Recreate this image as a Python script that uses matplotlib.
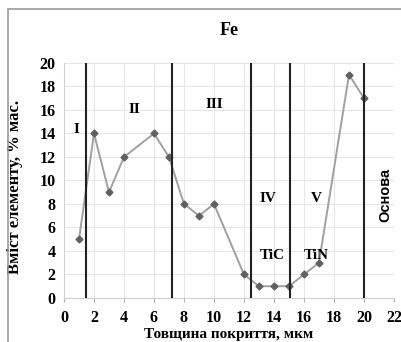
import matplotlib
matplotlib.use("Agg")
import matplotlib.pyplot as plt
from matplotlib.patches import Rectangle

x = [1, 2, 3, 4, 6, 7, 8, 9, 10, 12, 13, 14, 15, 16, 17, 19, 20]
fe = [5, 14, 9, 12, 14, 12, 8, 7, 8, 2, 1, 1, 1, 2, 3, 19, 17]
boundaries = [1.5, 7.2, 12.5, 15.05, 20]
zone_labels = ["I", "II", "III", "IV", "V"]
zone_pos = [(0.8, 14.3), (4.7, 16.0), (10.0, 16.5), (13.6, 8.5), (16.8, 8.5)]
phase_labels = ["TiC", "TiN"]
phase_pos = [(13.9, 3.6), (16.8, 3.6)]
xticks = list(range(0, 23, 2))
yticks = list(range(0, 21, 2))

serif = "Liberation Serif"
fig = plt.figure(figsize=(4.01, 3.42), dpi=100)
ax = fig.add_axes([0.1596, 0.1287, 0.8229, 0.6871])

# outer frame
fig.patches.append(Rectangle((8/401, -0.1), 1.2, 1 - 9/342 + 0.1, transform=fig.transFigure,
                             fill=False, edgecolor="#999999", linewidth=1.2))

ax.plot(x, fe, color="#a0a0a0", linewidth=1.4, marker="D", markersize=3.5,
        markerfacecolor="#606060", markeredgecolor="#606060", zorder=3)
for b in boundaries:
    ax.axvline(b, color="#222222", linewidth=1.5, zorder=4)

for lab, (px, py) in zip(zone_labels, zone_pos):
    ax.text(px, py, lab, family=serif, fontweight="bold", fontsize=11, ha="center", va="center")
for lab, (px, py) in zip(phase_labels, phase_pos):
    ax.text(px, py, lab, family=serif, fontweight="bold", fontsize=11, ha="center", va="center")
ax.text(21.4, 8.8, "Основа", family="Liberation Sans", fontweight="bold", fontsize=10.5,
        rotation=90, ha="center", va="center")

ax.set_xlim(0, 22)
ax.set_ylim(0, 20)
ax.set_xticks(xticks)
ax.set_yticks(yticks)
ax.grid(True, color="#e6e6e6", linewidth=0.8)
ax.set_axisbelow(True)
for s in ["top", "right"]:
    ax.spines[s].set_visible(False)
for s in ["left", "bottom"]:
    ax.spines[s].set_color("#d0d0d0")
ax.tick_params(axis="x", length=3, color="#b0b0b0", pad=6)
ax.tick_params(axis="y", length=0, pad=6)
for t in ax.get_xticklabels() + ax.get_yticklabels():
    t.set_family(serif)
    t.set_fontweight("bold")
    t.set_fontsize(11.5)

ax.set_title("Fe", family=serif, fontweight="bold", fontsize=13, pad=20)
ax.set_xlabel("Товщина покриття, мкм", family=serif, fontweight="bold", fontsize=11, labelpad=1)
ax.set_ylabel("Вміст елементу, % мас.", family=serif, fontweight="bold", fontsize=12)
ax.yaxis.set_label_coords(-0.124, 0.474)

fig.savefig("out.png", dpi=100)
